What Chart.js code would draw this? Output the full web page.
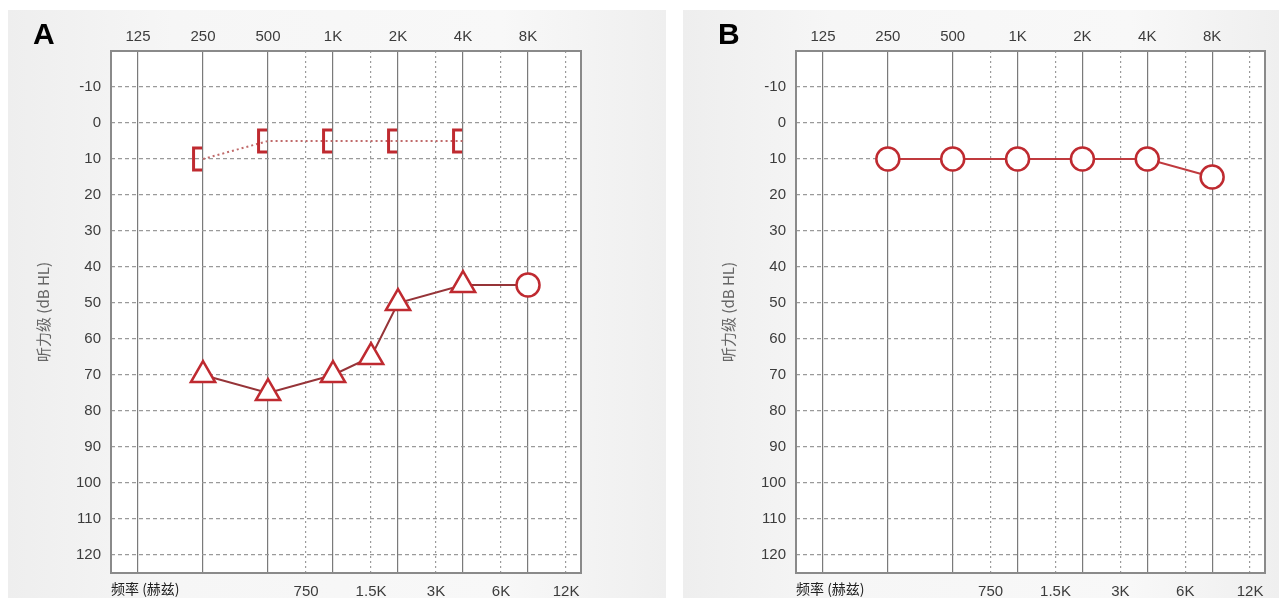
<!DOCTYPE html>
<html>
<head>
<meta charset="utf-8">
<script src="https://cdn.jsdelivr.net/npm/chart.js@4/dist/chart.umd.min.js"></script>
<style>
  body { margin: 0; width: 1279px; height: 598px; background: #fff; position: relative; overflow: hidden; }
  .panel { position: absolute; top: 10px; height: 588px; background: linear-gradient(90deg, #eeeeee 0%, #f6f6f6 25%, #f8f8f8 75%, #efefef 100%); }
  .tag { position: absolute; top: 17px; font: bold 30px "Liberation Sans", Arial, sans-serif; color: #000; }
  canvas { position: absolute; top: 0; }
</style>
</head>
<body>
<div class="panel" style="left:8px;width:658px"></div>
<div class="panel" style="left:683px;width:596px"></div>
<canvas id="chartA" width="665" height="598" style="left:0"></canvas>
<canvas id="chartB" width="594" height="598" style="left:685px"></canvas>
<div class="tag" style="left:33px">A</div>
<div class="tag" style="left:718px">B</div>
<script>
"use strict";

// подписи частот и уровней
const octaveFreqs = [125, 250, 500, 1000, 2000, 4000, 8000];
const halfFreqs = [750, 1500, 3000, 6000, 12000];
const dbTicks = [-10, 0, 10, 20, 30, 40, 50, 60, 70, 80, 90, 100, 110, 120];

// A: костная проводимость ([)
const boneFreqA = [250, 500, 1000, 2000, 4000];
const boneA = [10, 5, 5, 5, 5];

// A: воздушная проводимость (треугольники + круг)
const airFreqA = [250, 500, 1000, 1500, 2000, 4000, 8000];
const airA = [70, 75, 70, 65, 50, 45, 45];
const airShapeA = ["triangle", "triangle", "triangle", "triangle", "triangle", "triangle", "circle"];

// B: воздушная проводимость
const airFreqB = [250, 500, 1000, 2000, 4000, 8000];
const airB = [10, 10, 10, 10, 10, 15];

const RED = "#bf2a30";
const tickFont = { family: "'Liberation Sans', Arial, sans-serif", size: 15 };
const cjkFont = { family: "'Noto Sans CJK SC', sans-serif", size: 14 };

// скобка "[" для маркера
function bracketMarker() {
  const c = document.createElement("canvas");
  c.width = 24;
  c.height = 26;
  const g = c.getContext("2d");
  g.strokeStyle = RED;
  g.lineWidth = 3;
  g.beginPath();
  g.moveTo(11, 2);
  g.lineTo(2.5, 2);
  g.lineTo(2.5, 24);
  g.lineTo(11, 24);
  g.stroke();
  return c;
}

function freqLabel(v) {
  return v >= 1000 ? v / 1000 + "K" : String(v);
}

// белое поле и рамка графика
const framePlugin = {
  id: "frame",
  beforeDraw(chart) {
    const a = chart.chartArea;
    const ctx = chart.ctx;
    ctx.save();
    ctx.fillStyle = "#fff";
    ctx.fillRect(a.left, a.top, a.right - a.left, a.bottom - a.top);
    ctx.restore();
  },
  beforeDatasetsDraw(chart) {
    const a = chart.chartArea;
    const ctx = chart.ctx;
    ctx.save();
    ctx.strokeStyle = "#8a8a8a";
    ctx.lineWidth = 2;
    ctx.strokeRect(a.left, a.top, a.right - a.left, a.bottom - a.top);
    ctx.restore();
  },
};

function makeChart(id, datasets, padRight) {
  const ctx = document.getElementById(id);
  return new Chart(ctx, {
    type: "line",
    data: { datasets: datasets },
    plugins: [framePlugin],
    options: {
      responsive: false,
      animation: false,
      layout: { padding: { left: 0, top: 0, right: padRight, bottom: 0 } },
      plugins: { legend: { display: false }, tooltip: { enabled: false } },
      scales: {
        x: {
          type: "logarithmic",
          position: "top",
          min: 93.7,
          max: 14075,
          afterBuildTicks: (s) => { s.ticks = octaveFreqs.map((v) => ({ value: v })); },
          afterFit: (s) => { s.height = 51; },
          ticks: { callback: freqLabel, color: "#3c3c3c", font: tickFont, padding: 5, maxRotation: 0, autoSkip: false },
          grid: { color: "#7a7a7a", lineWidth: 1.2, drawTicks: false },
          border: { display: false },
        },
        x2: {
          type: "logarithmic",
          position: "bottom",
          min: 93.7,
          max: 14075,
          afterBuildTicks: (s) => { s.ticks = halfFreqs.map((v) => ({ value: v })); },
          afterFit: (s) => { s.height = 25; },
          ticks: { callback: freqLabel, color: "#3c3c3c", font: tickFont, padding: 10, maxRotation: 0, autoSkip: false },
          grid: { color: "#9a9a9a", lineWidth: 1.2, drawTicks: false },
          border: { display: false, dash: [2, 3] },
          title: { display: true, text: "频率 (赫兹)", align: "start", color: "#222", font: cjkFont, padding: { top: 0, bottom: 1 } },
        },
        y: {
          type: "linear",
          reverse: true,
          min: -20,
          max: 125,
          afterBuildTicks: (s) => { s.ticks = dbTicks.map((v) => ({ value: v })); },
          afterFit: (s) => { s.width = 111; },
          ticks: { color: "#3c3c3c", font: tickFont, padding: 10 },
          grid: { color: "#9a9a9a", lineWidth: 1.2, drawTicks: false },
          border: { display: false, dash: [4, 3] },
          title: { display: true, text: "听力级 (dB HL)", color: "#666", font: { family: "'Noto Sans CJK SC', sans-serif", size: 15 }, padding: { top: 34, bottom: 0 } },
        },
      },
    },
  });
}

const bracket = bracketMarker();

makeChart("chartA", [
  {
    data: boneFreqA.map((f, i) => ({ x: f, y: boneA[i] })),
    borderColor: "#c06a6a",
    borderWidth: 2,
    borderDash: [2, 3],
    pointStyle: bracket,
    pointRadius: 12,
  },
  {
    data: airFreqA.map((f, i) => ({ x: f, y: airA[i] })),
    borderColor: "#963438",
    borderWidth: 2,
    pointStyle: airShapeA,
    pointRadius: airShapeA.map((s) => (s === "triangle" ? 14 : 11.5)),
    pointBorderColor: RED,
    pointBorderWidth: 2.5,
    pointBackgroundColor: "#fff",
  },
], 84);

makeChart("chartB", [
  {
    data: airFreqB.map((f, i) => ({ x: f, y: airB[i] })),
    borderColor: "#c03a3e",
    borderWidth: 2,
    pointStyle: "circle",
    pointRadius: 11.5,
    pointBorderColor: RED,
    pointBorderWidth: 2.5,
    pointBackgroundColor: "#fff",
  },
], 14);
</script>
</body>
</html>
